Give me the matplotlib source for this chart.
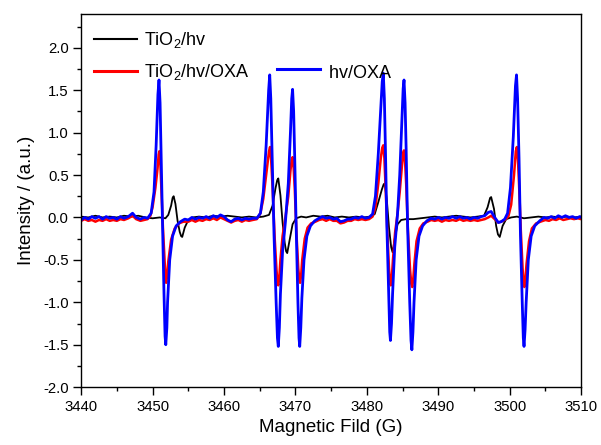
import numpy as np
import matplotlib
matplotlib.use("Agg")
import matplotlib.pyplot as plt
from matplotlib.ticker import MultipleLocator, FormatStrFormatter

plt.rcParams['font.family'] = ['Liberation Sans', 'DejaVu Sans']
plt.rcParams['mathtext.default'] = 'regular'

# spectra: (field in G, intensity in a.u.)
tio2_hv = [(3440.0, 0.01), (3441.0, 0.00), (3442.0, 0.02), (3443.0, 0.00), (3444.0, 0.01), (3445.0, 0.00),
           (3446.0, 0.02), (3447.0, 0.01), (3448.0, 0.02), (3449.0, 0.00), (3450.0, -0.01), (3451.0, 0.00),
           (3451.8, -0.01), (3452.2, 0.03), (3452.6, 0.14), (3452.8, 0.23), (3452.95, 0.25), (3453.2, 0.16),
           (3453.5, -0.04), (3453.8, -0.17), (3454.0, -0.22), (3454.15, -0.23), (3454.5, -0.12), (3455.0, -0.03),
           (3455.6, 0.00), (3456.5, 0.01), (3457.5, 0.00), (3458.5, 0.02), (3459.5, 0.01), (3460.5, 0.02),
           (3461.5, 0.01), (3462.5, 0.00), (3463.5, 0.01), (3464.5, 0.00), (3465.5, 0.01), (3466.3, 0.03),
           (3466.8, 0.14), (3467.2, 0.34), (3467.45, 0.44), (3467.6, 0.46), (3467.9, 0.26), (3468.2, -0.06),
           (3468.5, -0.30), (3468.7, -0.40), (3468.85, -0.42), (3469.2, -0.26), (3469.6, -0.08), (3470.1, -0.01),
           (3470.8, 0.01), (3471.5, 0.00), (3472.5, 0.02), (3473.5, 0.01), (3474.5, 0.02), (3475.5, 0.00),
           (3476.5, 0.01), (3477.5, 0.00), (3478.5, 0.01), (3479.5, 0.00), (3480.5, 0.01), (3481.1, 0.04),
           (3481.6, 0.18), (3482.1, 0.33), (3482.35, 0.39), (3482.5, 0.40), (3482.8, 0.20), (3483.1, -0.12),
           (3483.4, -0.35), (3483.6, -0.41), (3483.9, -0.25), (3484.3, -0.08), (3484.8, -0.03), (3485.5, -0.02),
           (3486.5, -0.02), (3487.5, -0.01), (3488.5, 0.00), (3489.5, 0.01), (3490.5, 0.00), (3491.5, 0.01),
           (3492.5, 0.02), (3493.5, 0.01), (3494.5, 0.00), (3495.5, 0.01), (3496.4, 0.02), (3496.9, 0.12),
           (3497.25, 0.23), (3497.4, 0.24), (3497.8, 0.10), (3498.1, -0.10), (3498.35, -0.20), (3498.6, -0.23),
           (3499.0, -0.10), (3499.5, -0.02), (3500.2, 0.00), (3501.0, 0.01), (3502.0, -0.01), (3503.0, 0.00),
           (3504.0, 0.01), (3505.0, 0.00), (3506.0, 0.01), (3507.0, 0.00), (3508.0, 0.01), (3509.0, 0.00),
           (3510.0, 0.01)]

tio2_hv_oxa = [(3440.0, -0.04), (3440.5, -0.02), (3441.0, -0.04), (3441.5, -0.03), (3442.0, -0.05), (3442.5, -0.03),
               (3443.0, -0.04), (3443.5, -0.02), (3444.0, -0.04), (3444.5, -0.03), (3445.0, -0.04), (3445.5, -0.02),
               (3446.0, -0.03), (3446.6, -0.01), (3447.2, 0.02), (3447.7, -0.02), (3448.3, -0.04), (3448.8, -0.03),
               (3449.3, -0.02), (3449.7, 0.02), (3450.0, 0.12), (3450.4, 0.35), (3450.7, 0.58), (3450.85, 0.74),
               (3450.95, 0.78), (3451.07, 0.68), (3451.2, 0.40), (3451.45, -0.12), (3451.7, -0.55), (3451.82, -0.73),
               (3451.9, -0.77), (3452.02, -0.70), (3452.2, -0.52), (3452.6, -0.26), (3453.1, -0.13), (3453.7, -0.07),
               (3454.3, -0.05), (3455.0, -0.05), (3455.5, -0.03), (3456.0, -0.05), (3456.5, -0.03), (3457.0, -0.04),
               (3457.5, -0.02), (3458.0, -0.03), (3458.5, -0.01), (3459.0, -0.03), (3459.5, 0.00), (3460.0, -0.02),
               (3460.5, -0.04), (3461.0, -0.06), (3461.5, -0.04), (3462.0, -0.03), (3462.5, -0.05), (3463.0, -0.03),
               (3463.5, -0.04), (3464.0, -0.03), (3464.6, -0.02), (3465.1, 0.05), (3465.5, 0.22), (3465.9, 0.50),
               (3466.3, 0.78), (3466.45, 0.83), (3466.6, 0.68), (3466.8, 0.35), (3467.1, -0.25), (3467.35, -0.62),
               (3467.5, -0.77), (3467.6, -0.80), (3467.75, -0.70), (3467.9, -0.50), (3468.2, -0.22), (3468.6, 0.00),
               (3469.0, 0.25), (3469.3, 0.55), (3469.48, 0.68), (3469.6, 0.71), (3469.75, 0.58), (3469.9, 0.35),
               (3470.15, -0.20), (3470.4, -0.60), (3470.55, -0.74), (3470.65, -0.77), (3470.8, -0.68), (3470.95, -0.50),
               (3471.3, -0.25), (3471.7, -0.12), (3472.2, -0.07), (3472.8, -0.05), (3473.3, -0.03), (3473.8, -0.02),
               (3474.3, -0.04), (3474.8, -0.02), (3475.3, -0.04), (3475.8, -0.04), (3476.3, -0.07), (3476.8, -0.06),
               (3477.3, -0.04), (3477.8, -0.04), (3478.3, -0.02), (3478.8, -0.03), (3479.3, -0.02), (3479.8, -0.03),
               (3480.3, -0.02), (3480.8, 0.01), (3481.2, 0.12), (3481.6, 0.40), (3481.95, 0.70), (3482.15, 0.82),
               (3482.3, 0.85), (3482.45, 0.70), (3482.6, 0.40), (3482.85, -0.15), (3483.1, -0.60), (3483.25, -0.76),
               (3483.35, -0.80), (3483.5, -0.70), (3483.65, -0.50), (3483.95, -0.18), (3484.3, 0.05), (3484.6, 0.30),
               (3484.9, 0.60), (3485.08, 0.76), (3485.2, 0.79), (3485.35, 0.65), (3485.5, 0.40), (3485.75, -0.15),
               (3486.05, -0.62), (3486.22, -0.78), (3486.35, -0.82), (3486.5, -0.72), (3486.65, -0.55), (3486.95, -0.28),
               (3487.4, -0.13), (3487.9, -0.07), (3488.5, -0.05), (3489.0, -0.03), (3489.5, -0.04), (3490.0, -0.03),
               (3490.5, -0.05), (3491.0, -0.03), (3491.5, -0.04), (3492.0, -0.03), (3492.5, -0.04), (3493.0, -0.02),
               (3493.5, -0.04), (3494.0, -0.03), (3494.5, -0.04), (3495.0, -0.03), (3495.5, -0.04), (3496.0, -0.03),
               (3496.5, -0.02), (3497.0, 0.00), (3497.4, 0.02), (3497.9, -0.02), (3498.4, -0.06), (3498.8, -0.05),
               (3499.3, -0.03), (3499.8, 0.01), (3500.2, 0.15), (3500.6, 0.50), (3500.85, 0.78), (3501.0, 0.83),
               (3501.15, 0.68), (3501.3, 0.40), (3501.55, -0.15), (3501.8, -0.60), (3501.95, -0.78), (3502.05, -0.82),
               (3502.2, -0.72), (3502.35, -0.55), (3502.7, -0.28), (3503.1, -0.13), (3503.7, -0.07), (3504.3, -0.05),
               (3505.0, -0.03), (3505.5, -0.04), (3506.0, -0.02), (3506.5, -0.03), (3507.0, -0.01), (3507.5, -0.03),
               (3508.0, -0.02), (3508.5, -0.01), (3509.0, -0.02), (3509.5, -0.01), (3510.0, -0.02)]

hv_oxa = [(3440.0, -0.03), (3440.5, 0.00), (3441.0, -0.02), (3441.5, 0.01), (3442.0, -0.01), (3442.5, 0.01),
          (3443.0, -0.02), (3443.5, 0.01), (3444.0, -0.01), (3444.5, 0.00), (3445.0, -0.02), (3445.5, 0.01),
          (3446.0, -0.01), (3446.6, 0.01), (3447.2, 0.05), (3447.7, 0.00), (3448.3, -0.02), (3448.8, 0.00),
          (3449.3, -0.01), (3449.8, 0.05), (3450.2, 0.30), (3450.5, 0.85), (3450.75, 1.45), (3450.9, 1.62),
          (3451.05, 1.35), (3451.2, 0.70), (3451.4, -0.10), (3451.6, -0.90), (3451.75, -1.40), (3451.85, -1.50),
          (3452.0, -1.30), (3452.1, -1.00), (3452.4, -0.50), (3452.8, -0.22), (3453.3, -0.10), (3453.9, -0.05),
          (3454.5, -0.02), (3455.0, -0.03), (3455.5, 0.00), (3456.0, -0.02), (3456.5, 0.00), (3457.0, -0.01),
          (3457.5, 0.01), (3458.0, -0.01), (3458.5, 0.02), (3459.0, 0.00), (3459.5, 0.03), (3460.0, 0.01),
          (3460.5, -0.03), (3461.0, -0.05), (3461.5, -0.02), (3462.0, -0.01), (3462.5, -0.03), (3463.0, -0.01),
          (3463.5, -0.02), (3464.0, -0.01), (3464.6, -0.01), (3465.1, 0.05), (3465.5, 0.30), (3465.9, 0.85),
          (3466.25, 1.50), (3466.4, 1.68), (3466.55, 1.40), (3466.75, 0.70), (3467.0, -0.20), (3467.3, -1.00),
          (3467.48, -1.42), (3467.6, -1.52), (3467.75, -1.30), (3467.9, -0.90), (3468.2, -0.40), (3468.6, -0.05),
          (3469.0, 0.40), (3469.3, 1.00), (3469.48, 1.40), (3469.6, 1.51), (3469.75, 1.25), (3469.9, 0.70),
          (3470.1, -0.10), (3470.35, -1.00), (3470.5, -1.42), (3470.6, -1.52), (3470.75, -1.30), (3470.9, -0.95),
          (3471.2, -0.50), (3471.6, -0.22), (3472.1, -0.10), (3472.7, -0.04), (3473.3, -0.01), (3473.8, 0.01),
          (3474.3, -0.01), (3474.8, 0.00), (3475.3, -0.02), (3475.8, -0.01), (3476.3, -0.05), (3476.8, -0.04),
          (3477.3, -0.02), (3477.8, -0.02), (3478.3, 0.00), (3478.8, -0.01), (3479.3, 0.01), (3479.8, -0.01),
          (3480.3, 0.00), (3480.8, 0.04), (3481.2, 0.25), (3481.6, 0.75), (3481.95, 1.30), (3482.15, 1.60),
          (3482.3, 1.70), (3482.45, 1.40), (3482.6, 0.80), (3482.8, -0.10), (3483.05, -0.90), (3483.2, -1.35),
          (3483.3, -1.45), (3483.45, -1.25), (3483.6, -0.90), (3483.9, -0.35), (3484.3, 0.05), (3484.6, 0.50),
          (3484.9, 1.15), (3485.08, 1.52), (3485.2, 1.62), (3485.35, 1.35), (3485.5, 0.80), (3485.7, -0.10),
          (3486.0, -1.00), (3486.18, -1.45), (3486.3, -1.56), (3486.45, -1.35), (3486.6, -1.00), (3486.9, -0.50),
          (3487.3, -0.22), (3487.8, -0.10), (3488.4, -0.04), (3489.0, -0.01), (3489.5, -0.02), (3490.0, 0.00),
          (3490.5, -0.02), (3491.0, 0.00), (3491.5, -0.01), (3492.0, 0.01), (3492.5, -0.01), (3493.0, 0.01),
          (3493.5, -0.01), (3494.0, 0.00), (3494.5, -0.02), (3495.0, 0.00), (3495.5, -0.01), (3496.0, 0.01),
          (3496.5, 0.02), (3497.0, 0.06), (3497.4, 0.07), (3497.9, 0.00), (3498.4, -0.06), (3498.8, -0.05),
          (3499.3, -0.02), (3499.7, 0.05), (3500.1, 0.35), (3500.5, 0.95), (3500.8, 1.55), (3500.95, 1.68),
          (3501.1, 1.40), (3501.3, 0.70), (3501.5, -0.20), (3501.75, -1.00), (3501.9, -1.42), (3502.0, -1.52),
          (3502.15, -1.32), (3502.3, -1.00), (3502.6, -0.50), (3503.0, -0.22), (3503.5, -0.10), (3504.2, -0.04),
          (3504.8, 0.00), (3505.3, -0.01), (3505.8, 0.01), (3506.3, -0.01), (3506.8, 0.02), (3507.3, 0.00),
          (3507.8, 0.02), (3508.3, 0.00), (3508.8, 0.01), (3509.3, -0.01), (3509.8, 0.01), (3510.0, 0.00)]

labels = ['TiO$_2$/hv', 'TiO$_2$/hv/OXA', 'hv/OXA']
colors = ['black', 'red', 'blue']
widths = [1.3, 1.8, 2.0]

fig = plt.figure(figsize=(6.01, 4.45), dpi=100)
ax = fig.add_axes([0.135, 0.13, 0.832, 0.839])

handles = []
for data, lab, c, w in zip([tio2_hv, tio2_hv_oxa, hv_oxa], labels, colors, widths):
    arr = np.array(data)
    h, = ax.plot(arr[:, 0], arr[:, 1], color=c, lw=w, label=lab)
    handles.append(h)

# hidden slot so hv/OXA sits on the second row of the second column;
# the empty subscript gives the last label the same depth as the TiO2 ones
blank, = ax.plot([], [], color='none')
leg = ax.legend([handles[0], handles[1], blank, handles[2]],
                [labels[0], labels[1], labels[0], labels[2] + r'$_{\ }$'],
                ncol=2, loc='upper left', bbox_to_anchor=(0.0, 0.99), frameon=False,
                fontsize=13, handlelength=2.4, handletextpad=0.4, columnspacing=1.5,
                labelspacing=0.65, borderaxespad=0.3)
leg.get_texts()[2].set_alpha(0)
for lh, w in zip([leg.legend_handles[0], leg.legend_handles[1], leg.legend_handles[3]], [1.5, 2.2, 2.2]):
    lh.set_linewidth(w)

ax.set_xlim(3440, 3510)
ax.set_ylim(-2.0, 2.4)
ax.xaxis.set_major_locator(MultipleLocator(10))
ax.xaxis.set_minor_locator(MultipleLocator(5))
ax.yaxis.set_major_locator(MultipleLocator(0.5))
ax.yaxis.set_minor_locator(MultipleLocator(0.25))
ax.yaxis.set_major_formatter(FormatStrFormatter('%.1f'))
ax.tick_params(which='major', direction='out', length=5.5, width=1.0, labelsize=10.7)
ax.tick_params(which='minor', direction='out', length=3.2, width=1.0)
for s in ax.spines.values():
    s.set_linewidth(1.0)

ax.set_xlabel('Magnetic Fild (G)', fontsize=13.5, labelpad=4)
ax.set_ylabel('Intensity / (a.u.)', fontsize=13.5, labelpad=6)

fig.savefig('out.png', dpi=100)
